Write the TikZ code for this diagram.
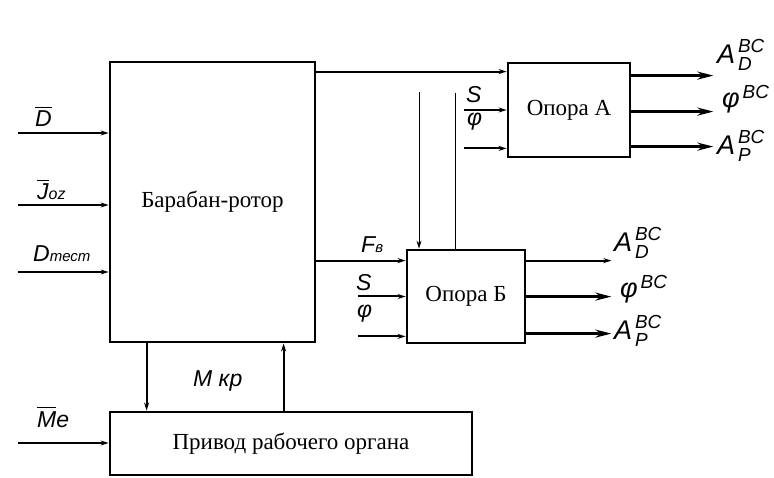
\documentclass[tikz,border=0pt]{standalone}
\usepackage{amsmath}
\usepackage{fontspec}
\setmainfont{Liberation Serif}
\newfontfamily\handfont{Liberation Sans}
\usetikzlibrary{arrows.meta,positioning}
\newcommand{\hw}[1]{\text{#1}}
\newcommand{\outlbl}[2]{$\hw{#1}^{\,\hw{BC}}_{\,\hw{#2}}$}

\begin{document}
\begin{tikzpicture}[x=1pt, y=-1pt,
  >={Stealth[length=8pt, width=5pt]},
  block/.style={draw, line width=2.8pt, inner sep=0pt,
                font=\fontsize{23}{26}\selectfont},
  sig/.style={->, line width=2pt},
  outsig/.style={->, line width=2.6pt, >={Stealth[length=16pt, width=8pt]}},
  tap/.style={line width=1pt},
  lbl/.style={font=\handfont\itshape\fontsize{23}{25}\selectfont, inner sep=0pt, anchor=base west},
  biglbl/.style={font=\handfont\itshape\fontsize{27}{29}\selectfont, inner sep=0pt, anchor=base west}]
  \useasboundingbox (0,0) rectangle (774,478);

  % blocks
  \node[block, minimum width=205pt, minimum height=280pt] (drum) at (212.5,202) {Барабан-ротор};
  \node[block, minimum width=122pt, minimum height=94pt] (supA) at (569,110) {Опора А};
  \node[block, minimum width=118pt, minimum height=93pt] (supB) at (466,296.5) {Опора Б};
  \node[block, minimum width=362pt, minimum height=63pt] (drive) at (291,443.5) {Привод рабочего органа};

  % inputs of the drum
  \foreach \y/\n in {133/d, 205/j, 272/t}{
    \coordinate (in\n) at (18,\y);
    \draw[sig] (in\n) -- (in\n -| drum.west);}
  \node[lbl] (ld) at (35,127) {$\overline{\hw{D}}$};
  \node[lbl] (lj) at (37,200) {$\overline{\hw{J}}$\fontsize{16}{16}\selectfont oz};
  \node[lbl] (lt) at (33,262) {D\fontsize{15}{16}\selectfont тест};

  % drum to supports
  \coordinate (ain) at ([yshift=-10pt]supA.north west);
  \draw[sig] (drum.east |- ain) -- (ain);
  \coordinate (fb) at ([yshift=-12pt]supB.north west);
  \draw[sig] (drum.east |- fb) -- (fb);
  \node[lbl] (lfb) at (361,253) {F\fontsize{15}{16}\selectfont в};
  \coordinate (va) at (419,92);
  \coordinate (vb) at (455,93);
  \draw[tap, ->] (va) -- (va |- supB.north);
  \draw[tap] (vb) -- (vb |- supB.north);

  % inputs of support A and B
  \draw[sig] ([xshift=-43pt]supA.west) -- (supA.west);
  \draw[sig] ([xshift=-43pt, yshift=10pt]supA.south west) -- ([yshift=10pt]supA.south west);
  \node[lbl] (lsa) at (466,103) {S};
  \node[lbl] (lpa) at (467,126) {φ};
  \draw[sig] ([xshift=-48pt]supB.west) -- (supB.west);
  \draw[sig] ([xshift=-48pt, yshift=8pt]supB.south west) -- ([yshift=8pt]supB.south west);
  \node[lbl] (lsb) at (356,291) {S};
  \node[lbl] (lpb) at (357,318) {φ};

  % outputs of support A
  \foreach \dy/\n in {-14/a, -50/b, -85/c}{
    \coordinate (oA\n) at ([yshift=\dy pt]supA.north east);
    \draw[outsig] (oA\n) -- ++(82,0) coordinate (eA\n);}
  \node[biglbl] (lAa) at (717,64) {\outlbl{A}{D}};
  \node[biglbl] (lAb) at (722,108) {$\hw{φ}^{\,\hw{BC}}$};
  \node[biglbl] (lAc) at (717,155) {\outlbl{A}{P}};

  % outputs of support B
  \draw[sig] ([yshift=-12pt]supB.north east) -- ++(85,0) coordinate (eBa);
  \foreach \dy/\n in {-48/b, -85/c}{
    \coordinate (oB\n) at ([yshift=\dy pt]supB.north east);
    \draw[outsig] (oB\n) -- ++(85,0) coordinate (eB\n);}
  \node[biglbl] (lBa) at (614,252) {\outlbl{A}{D}};
  \node[biglbl] (lBb) at (620,298) {$\hw{φ}^{\,\hw{BC}}$};
  \node[biglbl] (lBc) at (614,340) {\outlbl{A}{P}};

  % drum and drive
  \coordinate (mdown) at ([xshift=38pt]drum.south west);
  \coordinate (mup) at ([xshift=175pt]drive.north west);
  \draw[sig] (mdown) -- (mdown |- drive.north);
  \draw[sig] (mup) -- (mup |- drum.south);
  \node[lbl] (lmkr) at (193,387) {M кр};
  \coordinate (inme) at (18,443);
  \draw[sig] (inme) -- (inme -| drive.west);
  \node[lbl] (lme) at (37,427) {$\overline{\hw{M}}$e};
\end{tikzpicture}
\end{document}
